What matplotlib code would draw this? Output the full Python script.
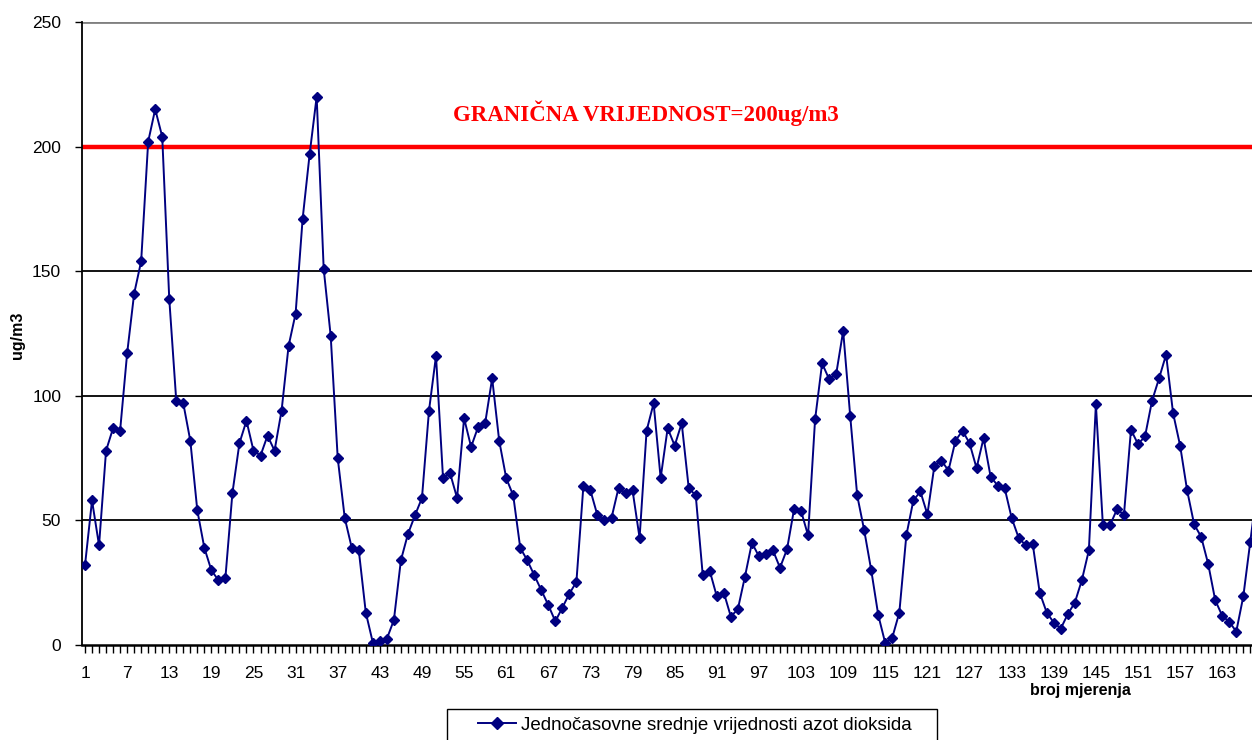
import matplotlib
matplotlib.use("Agg")
import matplotlib.pyplot as plt
from matplotlib.patches import Rectangle
from matplotlib.ticker import FixedLocator, MultipleLocator

# ---- data ----
measurements = list(range(1, 169))
no2_values = [
    32, 58, 40, 78, 87, 86, 117, 141, 154, 202,
    215, 204, 139, 98, 97, 82, 54, 39, 30, 26,
    27, 61, 81, 90, 78, 76, 84, 78, 94, 120,
    133, 171, 197, 220, 151, 124, 75, 51, 39, 38,
    13, 1, 1.5, 2.5, 10, 34, 44.5, 52, 59, 94,
    116, 67, 69, 59, 91, 79.5, 87.5, 89, 107, 82,
    67, 60, 39, 34, 28, 22, 16, 9.5, 15, 20.6,
    25.3, 64, 62, 52, 50, 51, 63, 61, 62, 43,
    86, 97, 67, 87, 80, 89, 63, 60, 28, 29.7,
    19.5, 21, 11.4, 14.4, 27.3, 41, 35.6, 36.6, 38, 31,
    38.4, 54.4, 53.8, 44, 90.5, 113, 106.7, 108.6, 126, 92,
    60, 46, 30, 12, 0.7, 3, 13, 44, 58, 61.6,
    52.4, 72, 74, 70, 82, 86, 81, 71, 83, 67.6,
    64, 63, 51, 43, 40, 40.6, 21, 13, 9, 6.6,
    12.4, 17, 26, 38, 96.6, 48, 48, 54.4, 52.3, 86.4,
    80.6, 83.7, 98, 107, 116.5, 93, 80, 62, 48.4, 43.4,
    32.5, 18, 11.7, 9.3, 5.4, 19.5, 41.4, 64,
]
limit_value = 200
y_ticks = [0, 50, 100, 150, 200, 250]
x_label_ticks = list(range(1, 164, 6))

series_label = "Jednočasovne srednje vrijednosti azot dioksida"
limit_label = "GRANIČNA VRIJEDNOST=200ug/m3"
y_title = "ug/m3"
x_title = "broj mjerenja"

narrow = ["Liberation Sans Narrow", "Liberation Sans", "DejaVu Sans"]

W, H = 1252, 740
fig = plt.figure(figsize=(W / 100, H / 100), dpi=100)
ax = fig.add_axes([82 / W, 95 / H, 1170 / W, 623 / H])

# gridlines
for v in [50, 100, 150]:
    ax.axhline(v, color="black", lw=1.3, zorder=1)
ax.axhline(250, color="#808080", lw=2, zorder=1)

# limit line
ax.axhline(limit_value, color="#ff0000", lw=3.2, zorder=2)
fig.text(453 / W, 1 - 113 / H, limit_label, color="#ff0000",
         fontsize=16.5, fontweight="bold", family="Liberation Serif",
         va="center", ha="left")

ax.plot(measurements, no2_values, color="#000080", lw=1.4, marker="D",
        markersize=5.5, markerfacecolor="#000080", markeredgecolor="#000080",
        label=series_label, zorder=3, clip_on=True)

ax.set_xlim(1 - 3 / 7.02, 1 + (W - 85) / 7.02)
ax.set_ylim(0, 250)

ax.spines["top"].set_visible(False)
ax.spines["right"].set_visible(False)
ax.spines["left"].set_linewidth(1.3)
ax.spines["bottom"].set_linewidth(1.8)

ax.yaxis.set_major_locator(FixedLocator(y_ticks))
ax.xaxis.set_major_locator(FixedLocator(x_label_ticks))
ax.xaxis.set_minor_locator(MultipleLocator(1))
ax.tick_params(axis="x", which="both", direction="out", length=6, width=1,
               labelsize=12.5, pad=9)
ax.tick_params(axis="y", direction="out", length=5, width=1, labelsize=12.5, pad=10)
for lab in ax.get_xticklabels() + ax.get_yticklabels():
    lab.set_family(narrow)

fig.text(18 / W, 1 - 335 / H, y_title, rotation=90, fontsize=11.5,
         fontweight="bold", family=narrow, ha="center", va="center")
fig.text(1080 / W, 1 - 690 / H, x_title, fontsize=11.5,
         fontweight="bold", family=narrow, ha="center", va="center")

# legend frame (extends past the bottom edge like in the reference)
fig.patches.append(Rectangle((447 / W, -10 / H), 490 / W, (H - 709 + 10) / H,
                             transform=fig.transFigure, fill=False,
                             edgecolor="black", lw=1.0, zorder=5))
leg = fig.legend(loc="center left", bbox_to_anchor=(478 / W, 1 - 725 / H),
                 frameon=False, prop={"family": narrow, "size": 13.5},
                 handlelength=2.0, borderpad=0, borderaxespad=0,
                 handletextpad=0.3)
leg.legend_handles[0].set_markersize(6)

fig.savefig("out.png", dpi=100)
